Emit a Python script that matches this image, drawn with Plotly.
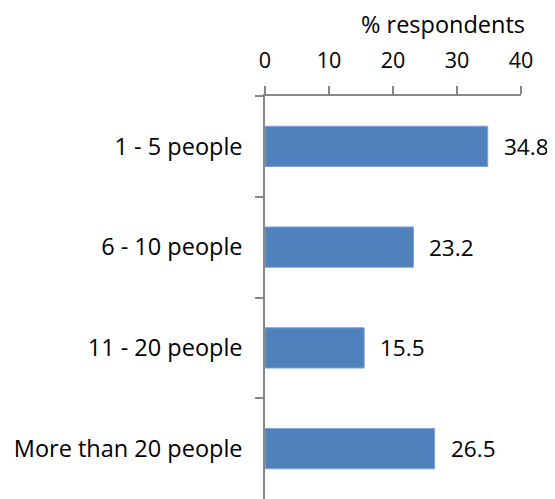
import plotly.graph_objects as go

categories = ["1 - 5 people", "6 - 10 people", "11 - 20 people", "More than 20 people"]
values = [34.8, 23.2, 15.5, 26.5]
x_ticks = [0, 10, 20, 30, 40]
axis_title = "% respondents"

FONT = "Open Sans"
GRAY = "#868686"
OFF = 8
W, H = 555 - OFF, 499 - OFF
L, R, T, B = 265 - OFF, 34, 96 - OFF, 0

fig = go.Figure()
fig.add_trace(go.Bar(
    x=values, y=categories, orientation="h",
    marker=dict(color="#4F81BD", line=dict(color="#7FA3D6", width=1)),
    width=0.4,
))
for c, v in zip(categories, values):
    fig.add_annotation(x=v, y=c, text=f"{v:.1f}", showarrow=False,
                       xanchor="left", xshift=14, font=dict(family=FONT, size=22.5, color="black"))

pw = W - L - R
ph = H - T - B
fig.add_annotation(xref="paper", yref="paper", x=(443 - 265) / pw, y=1 + (96 - 24) / ph,
                   text=axis_title, showarrow=False, xanchor="center", yanchor="middle",
                   borderpad=0,
                   font=dict(family=FONT, size=23.5, color="black"))

fig.update_layout(
    width=W, height=H,
    margin=dict(l=L, r=R, t=T, b=B),
    paper_bgcolor="white", plot_bgcolor="white",
    showlegend=False,
    font=dict(family=FONT, size=21, color="black"),
    xaxis=dict(side="top", range=[0, 40], tickvals=x_ticks, ticks="outside", ticklen=8,
               tickcolor=GRAY, tickwidth=1.5, showline=True, linecolor=GRAY, linewidth=1.5,
               showgrid=False, zeroline=False, ticklabelstandoff=10,
               tickfont=dict(family=FONT, size=21.5, color="black")),
    yaxis=dict(categoryorder="array", categoryarray=categories, autorange="reversed",
               ticks="outside", tickson="boundaries", ticklen=8, tickcolor=GRAY, tickwidth=1.5,
               showline=True, linecolor=GRAY, linewidth=1.5, showgrid=False, zeroline=False,
               ticklabelstandoff=16, tickfont=dict(family=FONT, size=23.5, color="black")),
)

fig.write_html("out.html")
